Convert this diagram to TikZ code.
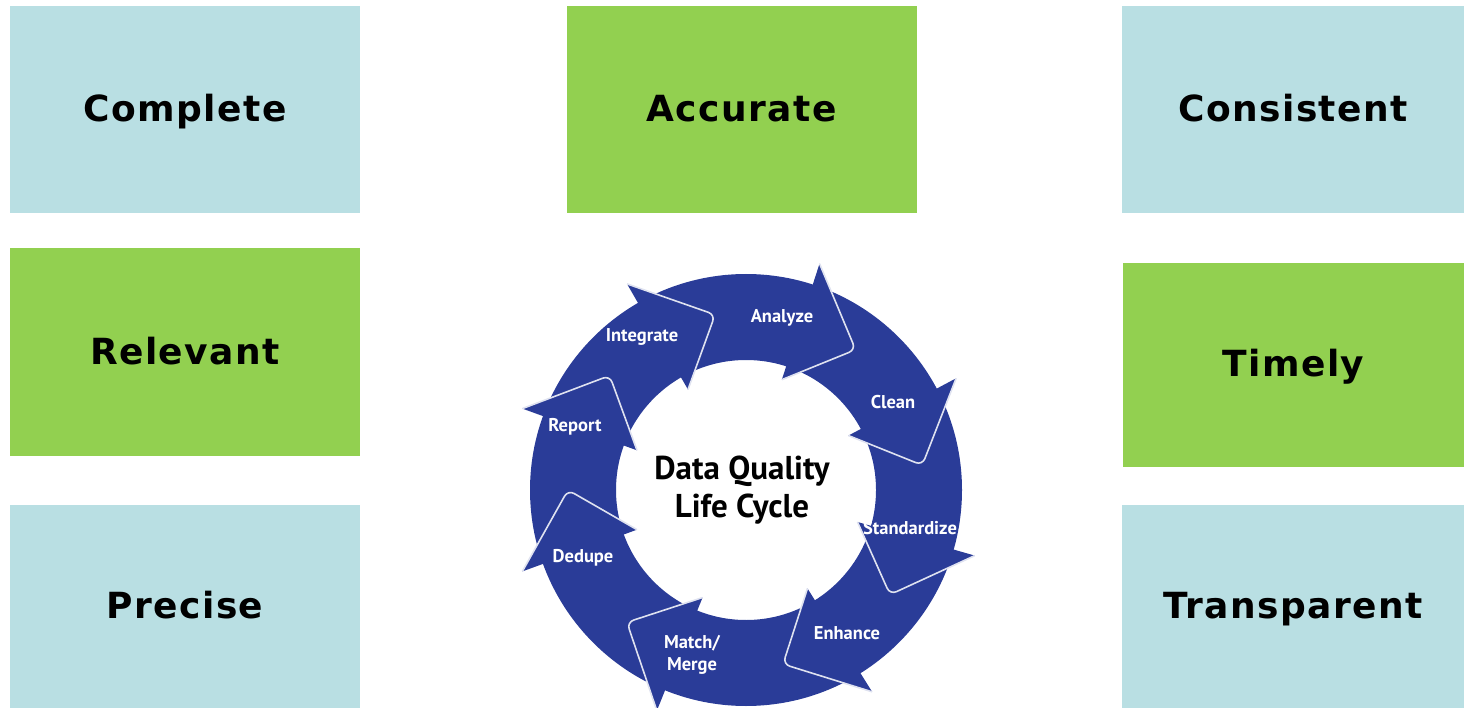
\documentclass[tikz,border=0pt]{standalone}
\usepackage{fontspec}
\setmainfont{DejaVu Sans}
\newfontfamily\cyclefont{PT Sans}
\definecolor{qualblue}{RGB}{185,223,227}
\definecolor{qualgreen}{RGB}{146,208,80}
\definecolor{ringblue}{RGB}{42,60,152}
\begin{document}
\begin{tikzpicture}[x=1pt, y=-1pt,
    quality/.style={inner sep=0pt, text height=24pt, text depth=0pt,
        font=\fontsize{36}{40}\selectfont\bfseries\addfontfeatures{LetterSpace=4}, text=black},
    bluebox/.style={quality, fill=qualblue},
    greenbox/.style={quality, fill=qualgreen},
    headtip/.style={fill=ringblue, draw=white!85!ringblue, line width=1.6pt, rounded corners=7pt},
    steplabel/.style={font=\cyclefont\fontsize{18.5}{22}\selectfont\bfseries, text=white, align=center}]
    \useasboundingbox (0,0) rectangle (1464,708);
    % quality boxes
    \node[bluebox, minimum width=350pt, minimum height=207pt] (complete) at (185,109.5) {Complete};
    \node[greenbox, minimum width=350pt, minimum height=207pt] (accurate) at (741.5,109.5) {Accurate};
    \node[bluebox, minimum width=342pt, minimum height=207pt] (consistent) at (1293,109.5) {Consistent};
    \node[greenbox, minimum width=350pt, minimum height=208pt] (relevant) at (185,352) {Relevant};
    \node[greenbox, minimum width=341pt, minimum height=204pt] (timely) at (1293.5,365) {Timely};
    \node[bluebox, minimum width=350pt, minimum height=203pt] (precise) at (185,606.5) {Precise};
    \node[bluebox, minimum width=342pt, minimum height=203pt] (transparent) at (1293,606.5) {Transparent};
    % life cycle ring
    \begin{scope}[shift={(746,490)}, y=1pt]
        \fill[ringblue, even odd rule] (0,0) circle (216) (0,0) circle (130);
        \foreach \t in {140,100,52,8,-36,-78,-132,-180}
            \filldraw[headtip] (\t+20:238) -- (\t:178) -- (\t+20:116);
    \end{scope}
    \node[steplabel] (integrate) at (642,337) {Integrate};
    \node[steplabel] (analyze) at (782,318) {Analyze};
    \node[steplabel] (clean) at (893,402) {Clean};
    \node[steplabel] (standardize) at (910,528) {Standardize};
    \node[steplabel] (enhance) at (847,633) {Enhance};
    \node[steplabel] (merge) at (692,655) {Match/\\Merge};
    \node[steplabel] (dedupe) at (583,558) {Dedupe};
    \node[steplabel] (report) at (575,427) {Report};
    \node[font=\cyclefont\fontsize{33}{38}\selectfont\bfseries, align=center] (cycle) at (742,490) {Data Quality\\Life Cycle};
\end{tikzpicture}
\end{document}
